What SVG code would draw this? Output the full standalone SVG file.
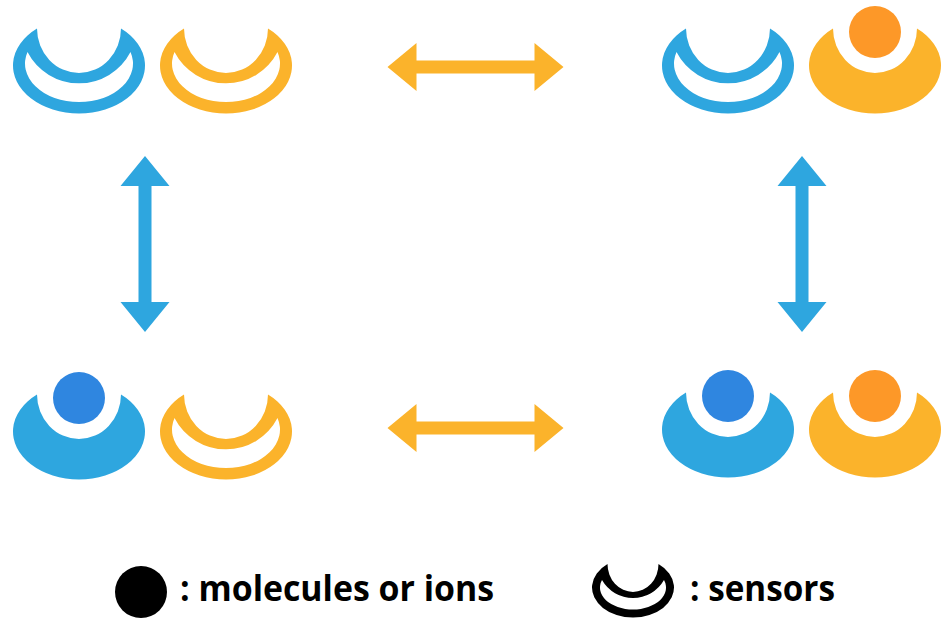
<svg xmlns="http://www.w3.org/2000/svg" width="950" height="626" viewBox="0 0 950 626">
<style>
.b{fill:#2ea6df}.o{fill:#fbb32b}.cb{fill:#2f86e0}.co{fill:#fd9828}
.t{font-family:"Open Sans","Liberation Sans",sans-serif;font-weight:700;font-size:36px;fill:#000}
</style>
<defs>
<path id="sensor" fill-rule="evenodd" d="M-42 28.500A66 48 0 1 0 42 28.500A42 44.500 0 0 1 -42 28.500ZM-51.500 52A54 38.500 0 1 0 51.500 52A58 58 0 0 1 -51.500 52Z"/>
<path id="solid" d="M-42 28.500A66 48 0 1 0 42 28.500A42 44.500 0 0 1 -42 28.500Z"/>
<path id="arrowH" d="M-88 0L-59 -24V-6.500H59V-24L88 0L59 24V6.500H-59V24Z"/>
<path id="arrowV" d="M0 -88L24.500 -58H6.500V58H24.500L0 88L-24.500 58H-6.500V-58H-24.500Z"/>
</defs>
<g id="connectors">
<use href="#arrowH" x="475.500" y="67" class="o"/>
<use href="#arrowH" x="475.500" y="428" class="o"/>
<use href="#arrowV" x="145" y="244" class="b"/>
<use href="#arrowV" x="802" y="244" class="b"/>
</g>
<g id="state-top-left">
<use href="#sensor" x="79" y="0" class="b"/>
<use href="#sensor" x="226" y="0" class="o"/>
</g>
<g id="state-top-right">
<use href="#sensor" x="728" y="0" class="b"/>
<use href="#solid" x="875" y="0" class="o"/>
<circle cx="875" cy="32" r="26" class="co"/>
</g>
<g id="state-bottom-left">
<use href="#solid" x="79" y="366" class="b"/>
<circle cx="79" cy="398" r="26" class="cb"/>
<use href="#sensor" x="226" y="366" class="o"/>
</g>
<g id="state-bottom-right">
<use href="#solid" x="728" y="364" class="b"/>
<circle cx="728" cy="396" r="26" class="cb"/>
<use href="#solid" x="875" y="364" class="o"/>
<circle cx="875" cy="396" r="26" class="co"/>
</g>
<g id="legend-molecules">
<ellipse cx="141" cy="592" rx="26" ry="26" fill="#000"/>
<text class="t" x="180" y="601" textLength="314" lengthAdjust="spacingAndGlyphs">: molecules or ions</text>
</g>
<g id="legend-sensors">
<path transform="translate(633 0)" fill="#000" fill-rule="evenodd" d="M-25.500 564A41 30 0 1 0 25.500 564A25.500 28 0 0 1 -25.500 564ZM-31 580A33 22 0 1 0 31 580A35.700 35.700 0 0 1 -31 580Z"/>
<text class="t" x="690" y="601" textLength="145" lengthAdjust="spacingAndGlyphs">: sensors</text>
</g>
</svg>
